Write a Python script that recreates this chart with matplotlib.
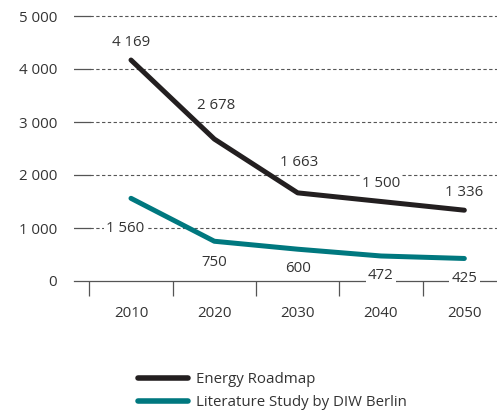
import matplotlib
matplotlib.use("Agg")
import matplotlib.pyplot as plt
from matplotlib.transforms import blended_transform_factory

plt.rcParams['font.family'] = ['Open Sans', 'DejaVu Sans']

years = ['2010', '2020', '2030', '2040', '2050']
roadmap = [4169, 2678, 1663, 1500, 1336]
diw = [1560, 750, 600, 472, 425]
yticks = [0, 1000, 2000, 3000, 4000, 5000]

# label offsets in pixels (dx, dy)
roadmap_off = [(0, 18), (2, 34), (1, 30), (0, 18), (0, 18)]
diw_off = [(-6, -30), (0, -21), (0, -19), (0, -20), (0, -20)]

black = '#231f20'
teal = '#00787f'
txt = '#333333'
grey = '#555555'
fs = 10.8

def fmt(v):
    return f"{v:,}".replace(",", " ")

fig = plt.figure(figsize=(4.97, 4.12), dpi=100)
ax = fig.add_axes([74 / 497, 131 / 412, 423 / 497, 270.3 / 412])

x = range(len(years))
ax.plot(x, roadmap, color=black, lw=3.6, solid_capstyle='round', zorder=4, label='Energy Roadmap')
ax.plot(x, diw, color=teal, lw=3.6, solid_capstyle='round', zorder=4, label='Literature Study by DIW Berlin')

ax.set_xlim(-0.684, 4.392)
ax.set_ylim(0, 5100)

# gridlines: short solid tick then dashed
tr = blended_transform_factory(ax.transAxes, ax.transData)
for yv in yticks[1:]:
    ax.plot([0, 16 / 423], [yv, yv], color=grey, lw=0.9, transform=tr, zorder=1)
    ax.plot([16 / 423, 1], [yv, yv], color=grey, lw=0.8, ls=(0, (3.0, 2.2)), transform=tr, zorder=1)

for s in ['top', 'right', 'left']:
    ax.spines[s].set_visible(False)
ax.spines['bottom'].set_color(grey)
ax.spines['bottom'].set_linewidth(0.9)
ax.spines['bottom'].set_zorder(1)

ax.set_yticks(yticks)
ax.set_yticklabels([fmt(v) for v in yticks])
ax.tick_params(axis='y', length=0, pad=12, labelsize=fs, labelcolor=txt)

ax.set_xticks(list(x))
ax.set_xticklabels(years)
ax.set_xticks([i - 0.5 for i in x], minor=True)
ax.tick_params(axis='x', which='major', length=0, pad=18, labelsize=fs, labelcolor=txt)
ax.tick_params(axis='x', which='minor', length=11, width=0.9, color=grey, direction='out')

for series, offs in ((roadmap, roadmap_off), (diw, diw_off)):
    for i, v in enumerate(series):
        ax.annotate(fmt(v), (i, v), xytext=(offs[i][0] * 0.72, offs[i][1] * 0.72),
                    textcoords='offset points', ha='center', va='center',
                    fontsize=fs, color=txt, zorder=3,
                    bbox=dict(boxstyle='square,pad=0.15', fc='white', ec='none'))

leg = fig.legend(loc='upper left', bbox_to_anchor=(138 / 497, 1 - 372 / 412),
                 frameon=False, fontsize=fs, handlelength=3.3, handletextpad=0.6,
                 labelspacing=0.55, borderpad=0, borderaxespad=0)
for t in leg.get_texts():
    t.set_color(txt)
for h in leg.get_lines():
    h.set_linewidth(4)
    h.set_solid_capstyle('round')

fig.savefig('out.png', dpi=100)
